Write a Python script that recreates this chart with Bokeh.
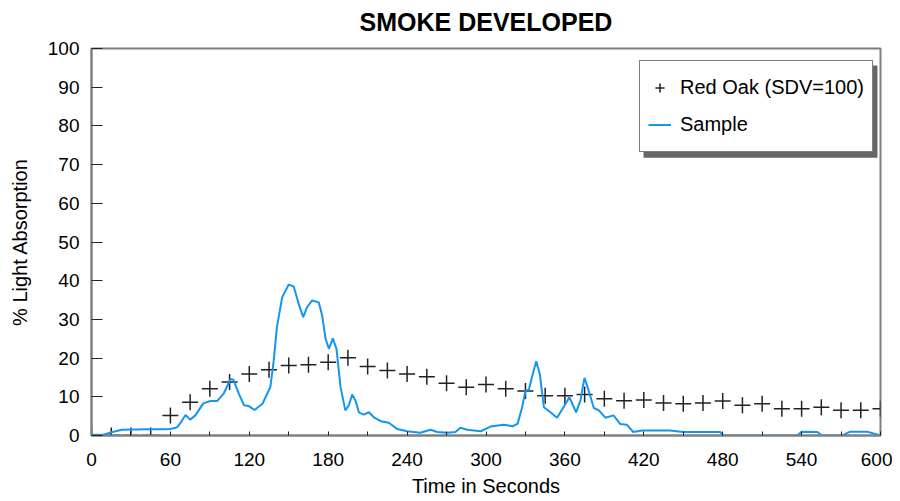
from bokeh.plotting import figure
from bokeh.models import Range1d, FixedTicker, Legend, LegendItem
from bokeh.embed import file_html
from bokeh.resources import INLINE

# ---- data ----
red_oak_time = [0, 15, 30, 45, 60, 75, 90, 105, 120, 135, 150, 165, 180, 195, 210,
                225, 240, 255, 270, 285, 300, 315, 330, 345, 360, 375, 390, 405,
                420, 435, 450, 465, 480, 495, 510, 525, 540, 555, 570, 585, 600]
red_oak_val = [0, 0, 0, 0, 5.2, 8.6, 12.1, 13.8, 15.9, 17.0, 18.1, 18.3, 18.9, 20.1, 17.8,
               16.8, 15.9, 15.2, 13.5, 12.5, 13.2, 12.1, 11.5, 10.3, 10.3, 10.6, 9.5, 9.0,
               9.2, 8.4, 8.2, 8.4, 8.9, 7.8, 8.2, 6.9, 6.9, 7.3, 6.5, 6.5, 6.9]

sample_time = [0, 9, 16, 23, 42, 52, 60, 65, 68, 71.5, 75, 79, 85, 90.5, 95.5, 100.5,
               105.7, 108, 112, 116, 119.6, 124, 130, 136, 138.6, 141, 145, 150, 153.8,
               157.6, 161, 164, 167.8, 172.8, 175.4, 178, 180.5, 183.5, 186.3, 189.4,
               193, 195.7, 198.2, 200.8, 203.3, 207, 211, 214.7, 220, 226, 232.4, 240,
               250, 257.8, 262.9, 270.5, 276.8, 280.6, 285.7, 296, 303.4, 313.5, 320,
               324, 327.5, 330, 332.6, 335, 338.2, 340.9, 344, 349, 354, 359, 363.4,
               368.5, 371.8, 374.9, 377.6, 382, 385.8, 390.8, 397, 402, 407, 412, 418.7,
               440, 450, 478, 480.6, 536.7, 540, 552, 555.5, 570.8, 577, 589.7, 600]
sample_val = [0.2, 0.2, 0.9, 1.5, 1.6, 1.6, 1.7, 2.1, 3.4, 5.3, 4.1, 5.2, 8.3, 8.9, 8.9, 10.8,
              14.6, 14.4, 10.8, 7.8, 7.6, 6.6, 8.2, 12.5, 19.4, 28.0, 35.7, 39.0, 38.5,
              34.0, 30.6, 33.2, 34.9, 34.4, 31.0, 25.0, 22.4, 25.1, 22.4, 12.5,
              6.5, 7.8, 10.6, 9.0, 6.0, 5.4, 6.0, 4.7, 3.7, 3.3, 1.7, 1.1,
              0.7, 1.5, 0.9, 0.7, 0.9, 2.0, 1.5, 1.1, 2.3, 2.8, 2.4,
              3.0, 7.3, 11.6, 11.8, 15.1, 19.2, 15.9, 7.3, 6.0, 4.6, 7.3, 9.9,
              6.0, 9.0, 14.9, 12.1, 7.1, 6.5, 4.6, 5.2, 3.0, 2.8, 0.9, 1.3,
              1.3, 0.9, 0.9, 0.0, 0.0, 1.0, 0.9, 0.0, 0.0, 1.0, 1.0, 0.0]

x_major = [0, 60, 120, 180, 240, 300, 360, 420, 480, 540, 600]
x_minor = [30, 90, 150, 210, 270, 330, 390, 450, 510, 570]
y_major = [0, 10, 20, 30, 40, 50, 60, 70, 80, 90, 100]

# legend shadow box (data units)
shadow_l, shadow_r, shadow_b, shadow_t = 419.8, 597.7, 71.8, 95.6

FONT = "Liberation Sans"
GREY = "#808080"

p = figure(frame_width=789, frame_height=387,
           min_border_left=91, min_border_right=12, min_border_top=48, min_border_bottom=64,
           x_range=Range1d(0, 600), y_range=Range1d(0, 100),
           output_backend="svg", toolbar_location=None,
           title="SMOKE DEVELOPED")

p.title.text_font = FONT
p.title.text_font_size = "25px"
p.title.text_font_style = "bold"
p.title.align = "center"
p.title.text_color = "#000000"
try:
    p.title.padding = dict(left=0, right=0, top=0, bottom=8)
except Exception:
    pass

p.xgrid.visible = False
p.ygrid.visible = False
p.outline_line_color = GREY
p.outline_line_width = 2
p.background_fill_color = "white"
p.border_fill_color = "white"

# axes
p.xaxis.ticker = FixedTicker(ticks=x_major, minor_ticks=x_minor)
p.yaxis.ticker = FixedTicker(ticks=y_major, minor_ticks=[])
for ax in (p.xaxis[0], p.yaxis[0]):
    ax.axis_line_color = GREY
    ax.axis_line_width = 2
    ax.major_tick_line_color = "#222222"
    ax.minor_tick_line_color = "#222222"
    ax.major_tick_out = 0
    ax.minor_tick_out = 0
    ax.major_label_text_font = FONT
    ax.major_label_text_font_size = "19px"
    ax.major_label_text_color = "#000000"
    ax.axis_label_text_font = FONT
    ax.axis_label_text_font_size = "20px"
    ax.axis_label_text_font_style = "normal"
    ax.axis_label_text_color = "#000000"

p.xaxis.major_tick_in = 4
p.xaxis.minor_tick_in = 4
p.xaxis.major_label_standoff = 17
p.xaxis.axis_label = "Time in Seconds"
p.xaxis.axis_label_standoff = 6

p.yaxis.major_tick_in = 11
p.yaxis.minor_tick_in = 0
p.yaxis.major_label_standoff = 12
p.yaxis.axis_label = "% Light Absorption"
p.yaxis.axis_label_standoff = 14

# legend shadow
p.quad(left=[shadow_l], right=[shadow_r], bottom=[shadow_b], top=[shadow_t],
       fill_color="#666666", line_color=None)

# data
r_oak = p.scatter(red_oak_time, red_oak_val, marker="cross", size=16,
                  line_color="#222222", line_width=1.5)
r_sample = p.line(sample_time, sample_val, line_color="#1296f0", line_width=2)

legend = Legend(items=[LegendItem(label="Red Oak (SDV=100)", renderers=[r_oak]),
                       LegendItem(label="Sample", renderers=[r_sample])],
                location=(548, 283))
legend.margin = 0
legend.padding = 8
legend.spacing = 0
legend.glyph_width = 23
legend.glyph_height = 37
legend.label_height = 37
legend.label_standoff = 9
legend.label_text_font = FONT
legend.label_text_font_size = "20px"
legend.label_text_color = "#000000"
legend.border_line_color = "#000000"
legend.border_line_width = 1
legend.background_fill_color = "white"
legend.background_fill_alpha = 1.0
p.add_layout(legend, "center")

open("out.html", "w").write(file_html(p, INLINE))
